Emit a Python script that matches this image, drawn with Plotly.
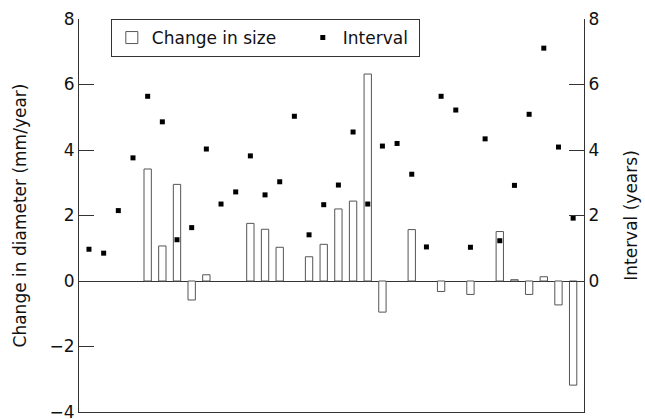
import plotly.graph_objects as go

categories = list(range(34))
change_in_size = [None, None, None, None, 3.42, 1.07, 2.95, -0.58, 0.19, None,
                  None, 1.76, 1.58, 1.03, None, 0.74, 1.12, 2.20, 2.44, 6.32,
                  -0.95, None, 1.57, None, -0.32, None, -0.41, None, 1.51, 0.04,
                  -0.41, 0.13, -0.73, -3.18]
interval = [0.97, 0.85, 2.15, 3.76, 5.64, 4.86, 1.26, 1.63, 4.03, 2.35,
            2.72, 3.82, 2.63, 3.03, 5.03, 1.41, 2.33, 2.93, 4.55, 2.35,
            4.12, 4.20, 3.26, 1.04, 5.64, 5.22, 1.03, 4.34, 1.23, 2.92,
            5.09, 7.11, 4.09, 1.92]
left_ticks = [-4, -2, 0, 2, 4, 6, 8]
right_ticks = [0, 2, 4, 6, 8]

FONT = "DejaVu Sans"
AX = "#333333"
NB = "\u00a0"

fig = go.Figure()
fig.add_trace(go.Bar(
    x=categories, y=change_in_size, name="Change in size" + NB * 4, width=0.5,
    marker=dict(color="white", line=dict(color="#555555", width=1)),
    yaxis="y",
))
fig.add_trace(go.Scatter(
    x=categories, y=interval, name="Interval" + NB, mode="markers",
    marker=dict(symbol="square", size=5, color="black"),
    yaxis="y2",
))

fig.update_layout(
    width=645, height=419,
    margin=dict(l=79, r=61, t=19, b=7, autoexpand=False),
    paper_bgcolor="white", plot_bgcolor="white",
    font=dict(family=FONT, size=17, color="#111111"),
    showlegend=True,
    legend=dict(
        orientation="h", x=0.063, y=1.0, xanchor="left", yanchor="top",
        bordercolor=AX, borderwidth=1, bgcolor="white",
        font=dict(family=FONT, size=17), itemwidth=30,
    ),
    xaxis=dict(
        range=[-0.68, 33.74], showline=True, linecolor=AX, linewidth=1,
        showticklabels=False, ticks="", showgrid=False, zeroline=False,
        mirror=False, automargin=False,
    ),
    yaxis=dict(
        range=[-4.0001, 8], tickvals=left_ticks,
        ticktext=[("\u2212" + str(-v)) if v < 0 else str(v) for v in left_ticks],
        ticks="inside", ticklen=15, tickcolor=AX, tickwidth=1,
        ticklabeloverflow="allow", automargin=False,
        showline=True, linecolor=AX, linewidth=1, showgrid=False,
        zeroline=True, zerolinecolor=AX, zerolinewidth=1,
        title=dict(text="Change in diameter (mm/year)", standoff=18,
                   font=dict(family=FONT, size=17)),
    ),
    yaxis2=dict(
        range=[-4.0001, 8], tickvals=right_ticks, overlaying="y", side="right",
        ticks="inside", ticklen=15, tickcolor=AX, tickwidth=1,
        showline=True, linecolor=AX, linewidth=1, showgrid=False,
        zeroline=False, automargin=False,
        title=dict(text="Interval (years)", standoff=26,
                   font=dict(family=FONT, size=17)),
    ),
    barmode="overlay",
)

fig.write_html("out.html")
